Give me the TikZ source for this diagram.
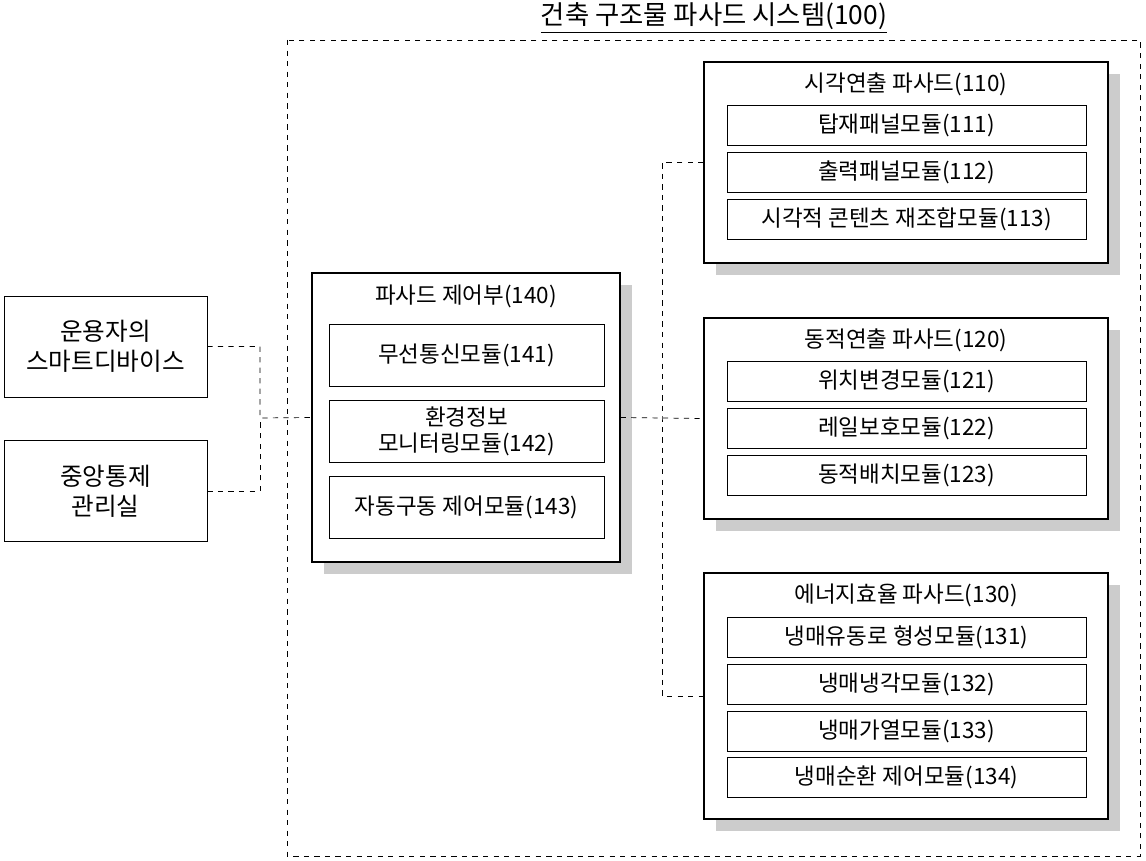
\documentclass[tikz,border=0pt]{standalone}
\usepackage{fontspec}
\setmainfont{Noto Sans CJK KR}
\usetikzlibrary{shadows}
\tikzset{
  px/.style={x=0.02cm,y=-0.02cm},
  frame/.style={draw,thick,fill=white,drop shadow={shadow xshift=0.24cm,shadow yshift=-0.24cm,opacity=1,fill=gray!40}},
  bigbox/.style={frame,minimum width=8.08cm,minimum height=4.02cm},
  modbox/.style={draw,fill=white,minimum width=7.18cm,minimum height=0.8cm,font=\fontsize{12.8}{14}\selectfont},
  ctlbox/.style={draw,fill=white,minimum width=5.5cm,minimum height=1.24cm,align=center,font=\fontsize{12.8}{15}\selectfont},
  sidebox/.style={draw,fill=white,minimum width=4.06cm,minimum height=2.02cm,align=center,font=\fontsize{14}{17}\selectfont},
  head/.style={anchor=center,font=\fontsize{12.8}{14}\selectfont},
  link/.style={draw,dashed,thin}
}
\begin{document}
\begin{tikzpicture}[px]
\useasboundingbox (0,0) rectangle (1146,861);
%outer system
\node[font=\fontsize{15}{17}\selectfont] (sysT) at (714,18) {\underline{건축 구조물 파사드 시스템(100)}};
\draw[dashed] (287,40) rectangle (1140,856);
%left side
\node[sidebox] (usr) at (105.5,346.5) {운용자의\\스마트디바이스};
\node[sidebox] (cen) at (105.5,491) {중앙통제\\관리실};
%controller 140
\node[frame,minimum width=6.16cm,minimum height=5.78cm] (ctl) at (466,417.5) {};
\node[head] (ctlT) at (466,296) {파사드 제어부(140)};
\node[ctlbox] (m141) at (466.5,355) {무선통신모듈(141)};
\node[ctlbox] (m142) at (466.5,431.5) {환경정보\\모니터링모듈(142)};
\node[ctlbox] (m143) at (466.5,507) {자동구동 제어모듈(143)};
%facade 110
\node[bigbox] (f110) at (906,162.5) {};
\node[head] (f110T) at (906,84) {시각연출 파사드(110)};
\node[modbox] (m111) at (906.5,125) {탑재패널모듈(111)};
\node[modbox] (m112) at (906.5,172) {출력패널모듈(112)};
\node[modbox] (m113) at (906.5,219) {시각적 콘텐츠 재조합모듈(113)};
%facade 120
\node[bigbox] (f120) at (906,418.5) {};
\node[head] (f120T) at (906,340) {동적연출 파사드(120)};
\node[modbox] (m121) at (906.5,381) {위치변경모듈(121)};
\node[modbox] (m122) at (906.5,428) {레일보호모듈(122)};
\node[modbox] (m123) at (906.5,475) {동적배치모듈(123)};
%facade 130
\node[bigbox,minimum height=4.92cm] (f130) at (906,696) {};
\node[head] (f130T) at (906,595) {에너지효율 파사드(130)};
\node[modbox] (m131) at (906.5,637) {냉매유동로 형성모듈(131)};
\node[modbox] (m132) at (906.5,684) {냉매냉각모듈(132)};
\node[modbox] (m133) at (906.5,731) {냉매가열모듈(133)};
\node[modbox] (m134) at (906.5,777) {냉매순환 제어모듈(134)};
%connectors
\coordinate (jL) at (260,418);
\coordinate (jR) at (662,418);
\draw[link] (usr.east) -| (jL) -- (ctl.west);
\draw[link] (cen.east) -| (jL);
\draw[link] (ctl.east) -- (f120.west);
\draw[link] (f110.west) -| (jR) |- (f130.west);
\end{tikzpicture}
\end{document}
